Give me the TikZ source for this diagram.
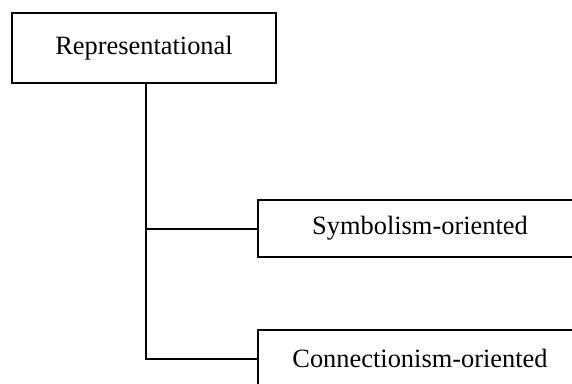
\documentclass[tikz,border=0pt]{standalone}
\usepackage{fontspec}
\setmainfont{Liberation Serif}
\begin{document}
\begin{tikzpicture}[x=1pt,y=1pt,
  box/.style={draw=black, line width=2pt, fill=white, inner sep=0pt,
              font=\fontsize{26.4}{30}\selectfont},
  link/.style={draw=black, line width=2pt}]
  \useasboundingbox (0,0) rectangle (572,383);
  \clip (0,0) rectangle (572,383);
  \node[box, minimum width=264, minimum height=70.6] (rep) at (144,335) {Representational};
  \node[box, minimum width=324, minimum height=57] (sym) at (420,154.5) {Symbolism-oriented};
  \node[box, minimum width=324, minimum height=57] (con) at (420,24.5) {Connectionism-oriented};
  \coordinate (trunk) at ([xshift=2pt]rep.south);
  \draw[link] (trunk) |- (con.west);
  \draw[link] (trunk |- sym.west) -- (sym.west);
\end{tikzpicture}
\end{document}
